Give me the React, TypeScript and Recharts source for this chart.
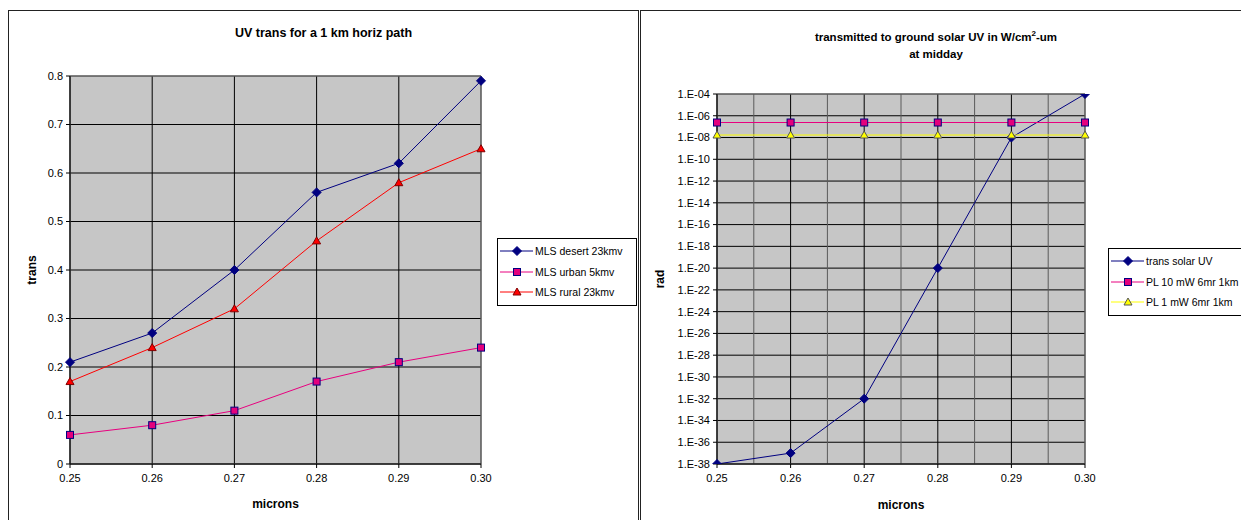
import React from "react";
import {
  LineChart,
  Line,
  XAxis,
  YAxis,
  CartesianGrid,
  Legend,
  ReferenceLine,
  ReferenceArea,
} from "recharts";

// wavelengths (microns)
const microns = [0.25, 0.26, 0.27, 0.28, 0.29, 0.3];
const minorMicrons = [0.255, 0.265, 0.275, 0.285, 0.295];

// left chart: transmission over 1 km horizontal path
const mlsDesert = [0.21, 0.27, 0.4, 0.56, 0.62, 0.79];
const mlsUrban = [0.06, 0.08, 0.11, 0.17, 0.21, 0.24];
const mlsRural = [0.17, 0.24, 0.32, 0.46, 0.58, 0.65];
const transTicks = [0, 0.1, 0.2, 0.3, 0.4, 0.5, 0.6, 0.7, 0.8];

// right chart: radiance (log scale)
const transSolarUV = [1e-38, 1e-37, 1e-32, 1e-20, 1e-8, 1e-4];
const pl10mW = [2.4e-7, 2.4e-7, 2.4e-7, 2.4e-7, 2.4e-7, 2.4e-7];
const pl1mW = [1.7e-8, 1.7e-8, 1.7e-8, 1.7e-8, 1.7e-8, 1.7e-8];
const radTicks = [
  1e-4, 1e-6, 1e-8, 1e-10, 1e-12, 1e-14, 1e-16, 1e-18, 1e-20, 1e-22, 1e-24,
  1e-26, 1e-28, 1e-30, 1e-32, 1e-34, 1e-36, 1e-38,
];

const leftData = microns.map((x, i) => ({
  x,
  desert: mlsDesert[i],
  urban: mlsUrban[i],
  rural: mlsRural[i],
}));

const rightData = microns.map((x, i) => ({
  x,
  solar: transSolarUV[i],
  pl10: pl10mW[i],
  pl1: pl1mW[i],
}));

type Series = {
  key: string;
  name: string;
  color: string;
  marker: "diamond" | "square" | "triangle";
  fill: string;
  stroke: string;
};

const leftSeries: Series[] = [
  { key: "desert", name: "MLS desert 23kmv", color: "#000080", marker: "diamond", fill: "#000080", stroke: "#000080" },
  { key: "urban", name: "MLS urban 5kmv", color: "#e8007f", marker: "square", fill: "#e4007c", stroke: "#000080" },
  { key: "rural", name: "MLS rural 23kmv", color: "#ff0000", marker: "triangle", fill: "#ff0000", stroke: "#800000" },
];

const rightSeries: Series[] = [
  { key: "solar", name: "trans solar UV", color: "#000080", marker: "diamond", fill: "#000080", stroke: "#000080" },
  { key: "pl10", name: "PL 10 mW 6mr 1km", color: "#e8007f", marker: "square", fill: "#e4007c", stroke: "#000080" },
  { key: "pl1", name: "PL 1 mW 6mr 1km", color: "#ffff00", marker: "triangle", fill: "#ffff00", stroke: "#555555" },
];

const FONT = '"Liberation Sans", Arial, sans-serif';
const tickStyle = { fontSize: 11, fill: "#000", fontFamily: FONT };
const axisTitleStyle = { fontSize: 12, fontWeight: "bold", fill: "#000", fontFamily: FONT, textAnchor: "middle" as const };

function Marker({ type, cx, cy, fill, stroke }: { type: string; cx: number; cy: number; fill: string; stroke: string }) {
  if (type === "diamond") {
    return (
      <polygon
        points={`${cx},${cy - 4.5} ${cx + 4.5},${cy} ${cx},${cy + 4.5} ${cx - 4.5},${cy}`}
        fill={fill}
        stroke={stroke}
      />
    );
  }
  if (type === "square") {
    return <rect x={cx - 3.5} y={cy - 3.5} width={7} height={7} fill={fill} stroke={stroke} />;
  }
  return (
    <polygon
      points={`${cx},${cy - 4} ${cx + 4},${cy + 3} ${cx - 4},${cy + 3}`}
      fill={fill}
      stroke={stroke}
    />
  );
}

const dotFor = (s: Series) => (p: any) => (
  <Marker key={`${s.key}-${p.index}`} type={s.marker} cx={p.cx} cy={p.cy} fill={s.fill} stroke={s.stroke} />
);

// legend keeps the series order (recharts sorts by name otherwise)
const legendFor = (series: Series[]) => (props: any) => {
  const payload = props.payload || [];
  return (
    <div
      style={{
        border: "1px solid #000",
        background: "#fff",
        padding: "2px 0",
        fontFamily: FONT,
        fontSize: 10.5,
        color: "#000",
        textAlign: "left",
      }}
    >
      {series.map((s) => {
        const entry = payload.find((p: any) => p.dataKey === s.key);
        return (
          <div key={s.key} style={{ display: "flex", alignItems: "center", height: 20.5 }}>
            <svg width={34} height={12} style={{ marginLeft: 2 }}>
              <line x1={0} x2={33} y1={6} y2={6} stroke={s.color} strokeWidth={1} />
              <Marker type={s.marker} cx={17} cy={6} fill={s.fill} stroke={s.stroke} />
            </svg>
            <span style={{ whiteSpace: "nowrap", marginLeft: 1 }}>{entry ? entry.value : s.name}</span>
          </div>
        );
      })}
    </div>
  );
};

const fmtExp = (v: number) => {
  const e = Math.round(Math.log10(v));
  return `1.E${e < 0 ? "-" : "+"}${String(Math.abs(e)).padStart(2, "0")}`;
};

export default function App() {
  return (
    <div style={{ position: "absolute", left: 0, top: 0, width: 1241, height: 520, overflow: "hidden", background: "#fff" }}>
      {/* panel frames */}
      <div style={{ position: "absolute", left: 8, top: 10, width: 631, height: 530, border: "1.5px solid #222", boxSizing: "border-box" }} />
      <div style={{ position: "absolute", left: 640, top: 10, width: 640, height: 530, border: "1.5px solid #222", boxSizing: "border-box" }} />

      {/* titles */}
      <div style={{ position: "absolute", left: 8, width: 631, top: 25, textAlign: "center", fontFamily: FONT, fontSize: 12.5, fontWeight: "bold", lineHeight: "16px" }}>
        UV trans for a 1 km horiz path
      </div>
      <div style={{ position: "absolute", left: 736, width: 400, top: 29, textAlign: "center", fontFamily: FONT, fontSize: 11.5, fontWeight: "bold", lineHeight: "17px" }}>
        transmitted to ground solar UV in W/cm<sup style={{ fontSize: 8, lineHeight: 0 }}>2</sup>-um
        <br />
        at midday
      </div>

      {/* left chart */}
      <div style={{ position: "absolute", left: 0, top: 0 }}>
        <LineChart
          width={640}
          height={520}
          data={leftData}
          margin={{ top: 76, right: 159, bottom: 12, left: 30 }}
          style={{ fontFamily: FONT }}
        >
          <CartesianGrid stroke="#000" fill="#c6c6c6" fillOpacity={1} />
          <ReferenceArea
            x1={microns[0]}
            x2={microns[microns.length - 1]}
            y1={transTicks[0]}
            y2={transTicks[transTicks.length - 1]}
            fill="none"
            stroke="#808080"
          />
          <XAxis
            dataKey="x"
            type="number"
            domain={[microns[0], microns[microns.length - 1]]}
            ticks={microns}
            interval={0}
            tickFormatter={(v: number) => v.toFixed(2)}
            height={44}
            tickSize={4}
            tickMargin={6}
            tick={tickStyle}
            stroke="#000"
            label={{ value: "microns", position: "insideBottom", offset: 0, style: axisTitleStyle }}
          />
          <YAxis
            type="number"
            domain={[transTicks[0], transTicks[transTicks.length - 1]]}
            ticks={transTicks}
            interval={0}
            tickFormatter={(v: number) => (v === 0 ? "0" : String(v))}
            width={40}
            tickSize={4}
            tickMargin={3}
            tick={tickStyle}
            stroke="#000"
            label={{ value: "trans", angle: -90, position: "insideLeft", offset: 2, style: axisTitleStyle }}
          />
          <Legend
            layout="vertical"
            align="center"
            verticalAlign="middle"
            content={legendFor(leftSeries)}
            wrapperStyle={{ left: 497, top: 238, width: 140 }}
          />
          {leftSeries.map((s) => (
            <Line
              key={s.key}
              dataKey={s.key}
              name={s.name}
              stroke={s.color}
              strokeWidth={1}
              type="linear"
              dot={dotFor(s)}
              activeDot={false}
              isAnimationActive={false}
            />
          ))}
        </LineChart>
      </div>

      {/* right chart */}
      <div style={{ position: "absolute", left: 640, top: 0 }}>
        <LineChart
          width={601}
          height={520}
          data={rightData}
          margin={{ top: 94, right: 156, bottom: 12, left: 17 }}
          style={{ fontFamily: FONT }}
        >
          <CartesianGrid stroke="#000" fill="#c6c6c6" fillOpacity={1} />
          {minorMicrons.map((v) => (
            <ReferenceLine key={v} x={v} stroke="#5a5a5a" strokeWidth={1} />
          ))}
          <ReferenceArea
            x1={microns[0]}
            x2={microns[microns.length - 1]}
            y1={radTicks[radTicks.length - 1]}
            y2={radTicks[0]}
            fill="none"
            stroke="#808080"
          />
          <XAxis
            dataKey="x"
            type="number"
            domain={[microns[0], microns[microns.length - 1]]}
            ticks={microns}
            interval={0}
            tickFormatter={(v: number) => v.toFixed(2)}
            height={44}
            tickSize={4}
            tickMargin={6}
            tick={tickStyle}
            stroke="#000"
            label={{ value: "microns", position: "insideBottom", offset: -1, style: axisTitleStyle }}
          />
          <YAxis
            type="number"
            scale="log"
            domain={[radTicks[radTicks.length - 1], radTicks[0]]}
            allowDataOverflow
            ticks={radTicks}
            interval={0}
            tickFormatter={fmtExp}
            width={60}
            tickSize={4}
            tickMargin={3}
            tick={tickStyle}
            stroke="#000"
            label={{ value: "rad", angle: -90, position: "insideLeft", offset: 3, style: axisTitleStyle }}
          />
          <Legend
            layout="vertical"
            align="center"
            verticalAlign="middle"
            content={legendFor(rightSeries)}
            wrapperStyle={{ left: 468, top: 248, width: 140 }}
          />
          {rightSeries.map((s) => (
            <Line
              key={s.key}
              dataKey={s.key}
              name={s.name}
              stroke={s.color}
              strokeWidth={1}
              type="linear"
              dot={dotFor(s)}
              activeDot={false}
              isAnimationActive={false}
            />
          ))}
        </LineChart>
      </div>
    </div>
  );
}
